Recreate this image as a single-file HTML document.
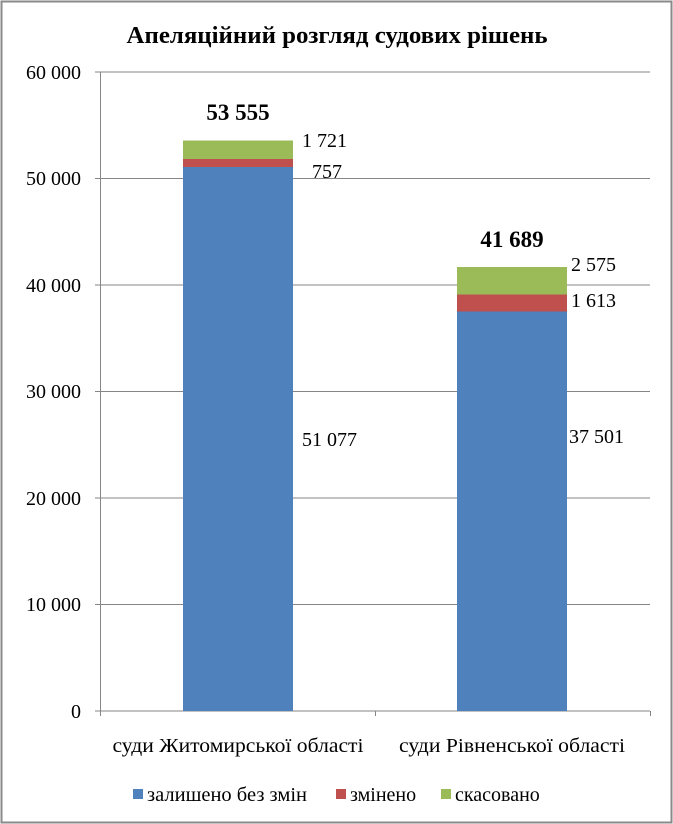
<!DOCTYPE html>
<html><head><meta charset="utf-8"><style>body{margin:0;background:#fff}svg{display:block}</style></head><body>
<svg width="673" height="824" xmlns="http://www.w3.org/2000/svg" font-family="Liberation Serif, serif">
<rect x="1.5" y="1.5" width="670" height="821" fill="#fff" stroke="#8a8a8a" stroke-width="2"/>
<text x="337" y="43" text-anchor="middle" font-size="24" font-weight="bold" textLength="421" lengthAdjust="spacingAndGlyphs">Апеляційний розгляд судових рішень</text>
<g stroke="#868686" stroke-width="1">
<line x1="95" y1="72" x2="650" y2="72"/><line x1="95" y1="178.5" x2="650" y2="178.5"/><line x1="95" y1="285" x2="650" y2="285"/><line x1="95" y1="391.5" x2="650" y2="391.5"/><line x1="95" y1="498" x2="650" y2="498"/><line x1="95" y1="604.5" x2="650" y2="604.5"/><line x1="95" y1="711" x2="650" y2="711"/>
<line x1="100.5" y1="72" x2="100.5" y2="711"/>
<line x1="100.5" y1="711" x2="100.5" y2="716"/><line x1="375.5" y1="711" x2="375.5" y2="716"/><line x1="650.5" y1="711" x2="650.5" y2="716"/>
</g>
<g font-size="20" text-anchor="end">
<text x="81" y="79">60 000</text><text x="81" y="185">50 000</text><text x="81" y="292">40 000</text><text x="81" y="398">30 000</text><text x="81" y="505">20 000</text><text x="81" y="611">10 000</text><text x="81" y="718">0</text>
</g>
<rect x="183" y="167" width="110" height="544" fill="#4f81bd"/>
<rect x="183" y="159" width="110" height="8" fill="#c0504d"/>
<rect x="183" y="140.5" width="110" height="18.5" fill="#9bbb59"/>
<rect x="457" y="311.5" width="110" height="399.5" fill="#4f81bd"/>
<rect x="457" y="294.5" width="110" height="17" fill="#c0504d"/>
<rect x="457" y="267" width="110" height="27.5" fill="#9bbb59"/>
<g font-size="20">
<text x="238" y="120" text-anchor="middle" font-weight="bold" font-size="23">53 555</text>
<text x="302" y="147">1 721</text><text x="312" y="178">757</text><text x="302" y="446">51 077</text>
<text x="512" y="247" text-anchor="middle" font-weight="bold" font-size="23">41 689</text>
<text x="571" y="271">2 575</text><text x="571" y="307">1 613</text><text x="569" y="443">37 501</text>
<text x="238" y="752" text-anchor="middle" textLength="251" lengthAdjust="spacingAndGlyphs">суди Житомирської області</text>
<text x="512" y="752" text-anchor="middle" textLength="226" lengthAdjust="spacingAndGlyphs">суди Рівненської області</text>
<rect x="133" y="789" width="10" height="10" fill="#4f81bd"/><text x="147" y="801" textLength="160" lengthAdjust="spacingAndGlyphs">залишено без змін</text>
<rect x="336" y="789" width="10" height="10" fill="#c0504d"/><text x="350" y="801">змінено</text>
<rect x="441" y="789" width="10" height="10" fill="#9bbb59"/><text x="455" y="801">скасовано</text>
</g>
</svg>
</body></html>
